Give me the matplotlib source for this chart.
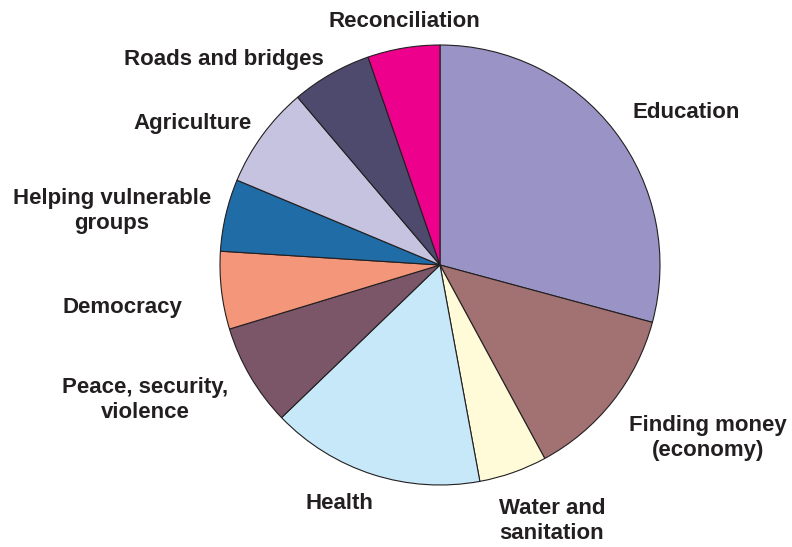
import matplotlib.pyplot as plt

# Shares (percent), clockwise from 12 o'clock
categories = ['Education', 'Finding money\n(economy)', 'Water and\nsanitation', 'Health',
              'Peace, security,\nviolence', 'Democracy', 'Helping vulnerable\ngroups',
              'Agriculture', 'Roads and bridges', 'Reconciliation']
shares = [29.2, 12.9, 5.0, 15.7, 7.5, 5.7, 5.3, 7.5, 5.9, 5.3]

colors = ['#9A93C6', '#A27273', '#FFFAD7', '#C6E8F8', '#7B5669',
          '#F4967A', '#1F6CA6', '#C6C3E1', '#4E4A6E', '#EC008C']

# label centres in pie-radius units
label_pos = [(1.118, 0.695), (1.218, -0.785), (0.509, -1.165), (-0.457, -1.085),
             (-1.341, -0.615), (-1.445, -0.195), (-1.491, 0.245), (-1.125, 0.645),
             (-0.984, 0.935), (-0.161, 1.105)]

fig = plt.figure(figsize=(7.92, 5.47), dpi=100)
ax = fig.add_axes([0, 0, 1, 1])

ax.pie(shares, colors=colors, startangle=90, counterclock=False, radius=1.0,
       wedgeprops=dict(edgecolor='#231F20', linewidth=0.8))

for name, (x, y) in zip(categories, label_pos):
    ax.text(x, y, name, ha='center', va='center', fontsize=16, fontweight='bold',
            family='Liberation Sans', color='#231F20', linespacing=1.25)

ax.set_xlim(-2.0, 1.6)
ax.set_ylim(-1.2818, 1.2045)
ax.set_aspect('equal')
ax.axis('off')

fig.savefig('out.png', dpi=100, facecolor='white')
